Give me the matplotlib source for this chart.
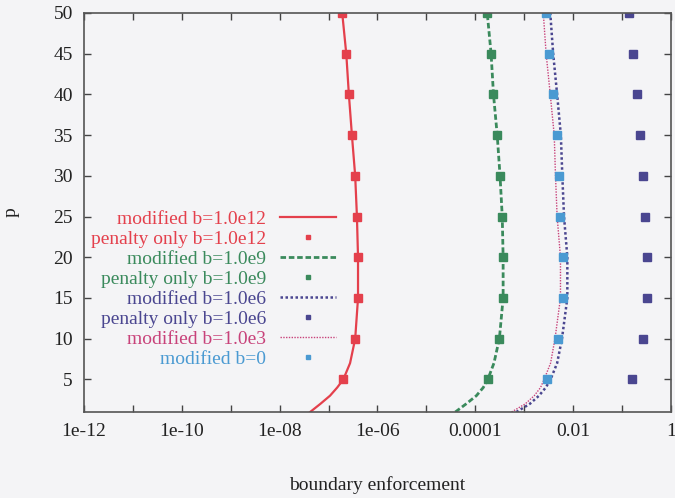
import numpy as np
import matplotlib.pyplot as plt
from matplotlib.ticker import FixedLocator, FuncFormatter, NullLocator

plt.rcParams['font.family'] = ['Liberation Serif', 'DejaVu Serif']

# p values for the continuous curves and for the point samples
p_line = [1, 2, 3, 4, 5, 7, 10, 15, 20, 25, 30, 35, 40, 45, 50]
p_pts = [5, 10, 15, 20, 25, 30, 35, 40, 45, 50]

mod_1e12 = [4.2e-8, 6.8e-8, 1.07e-7, 1.5e-7, 2.0e-7, 2.75e-7, 3.5e-7, 4.0e-7,
            4.0e-7, 3.8e-7, 3.5e-7, 3.0e-7, 2.6e-7, 2.3e-7, 1.9e-7]
pen_1e12 = [2.0e-7, 3.5e-7, 4.0e-7, 4.0e-7, 3.8e-7, 3.5e-7, 3.0e-7, 2.6e-7, 2.3e-7, 1.9e-7]

mod_1e9 = [3.9e-5, 6.5e-5, 1.05e-4, 1.45e-4, 1.8e-4, 2.4e-4, 3.1e-4, 3.7e-4,
           3.7e-4, 3.55e-4, 3.2e-4, 2.8e-4, 2.35e-4, 2.1e-4, 1.75e-4]
pen_1e9 = [1.8e-4, 3.1e-4, 3.7e-4, 3.7e-4, 3.55e-4, 3.2e-4, 2.8e-4, 2.35e-4, 2.1e-4, 1.75e-4]

mod_1e6 = [6.9e-4, 1.3e-3, 2.0e-3, 2.75e-3, 3.45e-3, 4.7e-3, 5.9e-3, 7.6e-3,
           7.6e-3, 6.5e-3, 6.0e-3, 5.6e-3, 4.7e-3, 3.9e-3, 3.4e-3]
pen_1e6 = [0.162, 0.27, 0.32, 0.32, 0.295, 0.27, 0.235, 0.205, 0.17, 0.141]

mod_1e3 = [5.5e-4, 1.05e-3, 1.6e-3, 2.15e-3, 2.55e-3, 3.45e-3, 4.25e-3, 5.5e-3,
           5.5e-3, 4.7e-3, 4.35e-3, 4.1e-3, 3.4e-3, 2.8e-3, 2.45e-3]
mod_b0 = [2.95e-3, 4.9e-3, 6.3e-3, 6.3e-3, 5.4e-3, 5.1e-3, 4.7e-3, 3.9e-3, 3.2e-3, 2.8e-3]

x_exps = list(range(-12, 1))
x_labels = {-12: "1e-12", -10: "1e-10", -8: "1e-08", -6: "1e-06",
            -4: "0.0001", -2: "0.01", 0: "1"}
y_ticks = [5, 10, 15, 20, 25, 30, 35, 40, 45, 50]

red = "#e4404c"
green = "#3a8a5c"
navy = "#4a4690"
pink = "#c8427a"
sky = "#4a9ad2"

fig = plt.figure(figsize=(6.75, 4.98), dpi=100, facecolor="#f4f4f6")
ax = fig.add_axes([0.1244, 0.1727, 0.8697, 0.8012])
ax.set_facecolor("#f4f4f6")

ax.plot(mod_1e12, p_line, color=red, lw=1.6, label="modified b=1.0e12")
ax.plot(pen_1e12, p_pts, ls="none", marker="s", ms=5.5, color=red, label="penalty only b=1.0e12")
ax.plot(mod_1e9, p_line, color=green, lw=2.0, ls=(0, (2.0, 1.0)), label="modified b=1.0e9")
ax.plot(pen_1e9, p_pts, ls="none", marker="s", ms=5.5, color=green, label="penalty only b=1.0e9")
ax.plot(mod_1e6, p_line, color=navy, lw=1.8, ls=(0, (1.0, 1.0)), label="modified b=1.0e6")
ax.plot(pen_1e6, p_pts, ls="none", marker="s", ms=5.5, color=navy, label="penalty only b=1.0e6")
ax.plot(mod_1e3, p_line, color=pink, lw=1.0, ls=(0, (1.0, 1.0)), label="modified b=1.0e3")
ax.plot(mod_b0, p_pts, ls="none", marker="s", ms=5.5, color=sky, label="modified b=0")

ax.set_xscale("log")
ax.set_xlim(1e-12, 1)
ax.set_ylim(1, 50)

ax.xaxis.set_major_locator(FixedLocator([10.0 ** e for e in x_exps]))
ax.xaxis.set_minor_locator(NullLocator())
ax.xaxis.set_major_formatter(FuncFormatter(
    lambda v, pos: x_labels.get(int(round(np.log10(v))), "")))
ax.set_yticks(y_ticks)

ax.tick_params(direction="in", top=True, right=True, length=5, width=1,
               labelsize=14, color="#444444", labelcolor="#222222", pad=8)
for s in ax.spines.values():
    s.set_color("#555555")
    s.set_linewidth(1.2)

ax.set_xlabel("boundary enforcement", fontsize=14, color="#222222", labelpad=26)
ax.set_ylabel("p", fontsize=14, color="#222222", labelpad=24)

leg = ax.legend(loc="upper right", bbox_to_anchor=(0.43, 0.505), frameon=False,
                markerfirst=False, labelcolor="linecolor", fontsize=14,
                handlelength=2.9, handletextpad=0.7, labelspacing=0.12,
                borderaxespad=0, borderpad=0, markerscale=0.65)

fig.savefig("out.png", dpi=100, facecolor=fig.get_facecolor())
